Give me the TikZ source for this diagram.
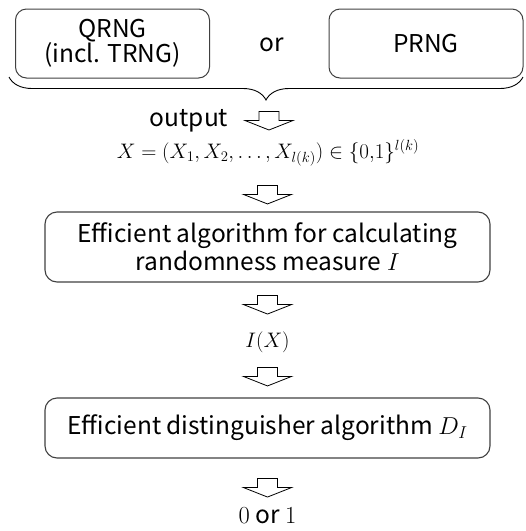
\RequirePackage{fix-cm}
\documentclass[tikz,border=0pt]{standalone}
\usepackage{fontspec}
\setmainfont{Noto Sans CJK JP}
\usetikzlibrary{calc,decorations.pathreplacing}
\tikzset{
  big/.style={font=\fontsize{24.5}{28}\selectfont},
  mth/.style={font=\fontsize{21}{25}\selectfont},
  srcbox/.style={big,draw=black!75,line width=1pt,rounded corners=11pt,minimum width=194pt,minimum height=69pt,align=center},
  algbox/.style={big,draw=black!75,line width=1.1pt,rounded corners=12pt,minimum width=445pt,align=center},
  lbl/.style={inner sep=2pt},
  pics/downarrow/.style={code={
    \draw[line width=0.8pt,line join=miter] (-10,-9)--(10,-9)--(10,0)--(24,0)--(0,9.5)--(-24,0)--(-10,0)--cycle;}}
}
\begin{document}
\begin{tikzpicture}[x=1pt,y=-1pt]
\useasboundingbox (0,0) rectangle (526,531);
%generators
\node[srcbox] (qrng) at (112.5,43.5) {QRNG\\[-3pt](incl. TRNG)};
\node[srcbox] (prng) at (426,43.5) {PRNG};
\node[lbl,big] (or) at (272,45) {or};
\draw[line width=0.9pt,decorate,decoration={brace,mirror,amplitude=23pt}] (9,77)--(523,77);
%output
\node[lbl,big] (out) at (189,121) {output};
\pic at (269,120.5) {downarrow};
\node[lbl,mth] (xvec) at (268,153) {$X=(X_1,X_2,\dots,X_{l(k)})\in\{0{,}1\}^{l(k)}$};
%measure
\node[algbox,minimum height=70pt] (algo) at (267.5,247) {Efficient algorithm for calculating\\randomness measure $I$};
\node[lbl,mth] (ix) at (267.5,342) {$I(X)$};
%distinguisher
\node[algbox,minimum height=60pt] (dist) at (267.5,428) {Efficient distinguisher algorithm $D_I$};
\node[lbl,big,inner sep=0pt] (res) at (267.5,516) {$0$ or $1$};
%block arrows
\pic at ([yshift=17pt]algo.north) {downarrow};
\pic at ([yshift=-22pt]algo.south) {downarrow};
\pic at ([yshift=21pt]dist.north) {downarrow};
\pic at ([yshift=-29pt]dist.south) {downarrow};
\end{tikzpicture}
\end{document}
